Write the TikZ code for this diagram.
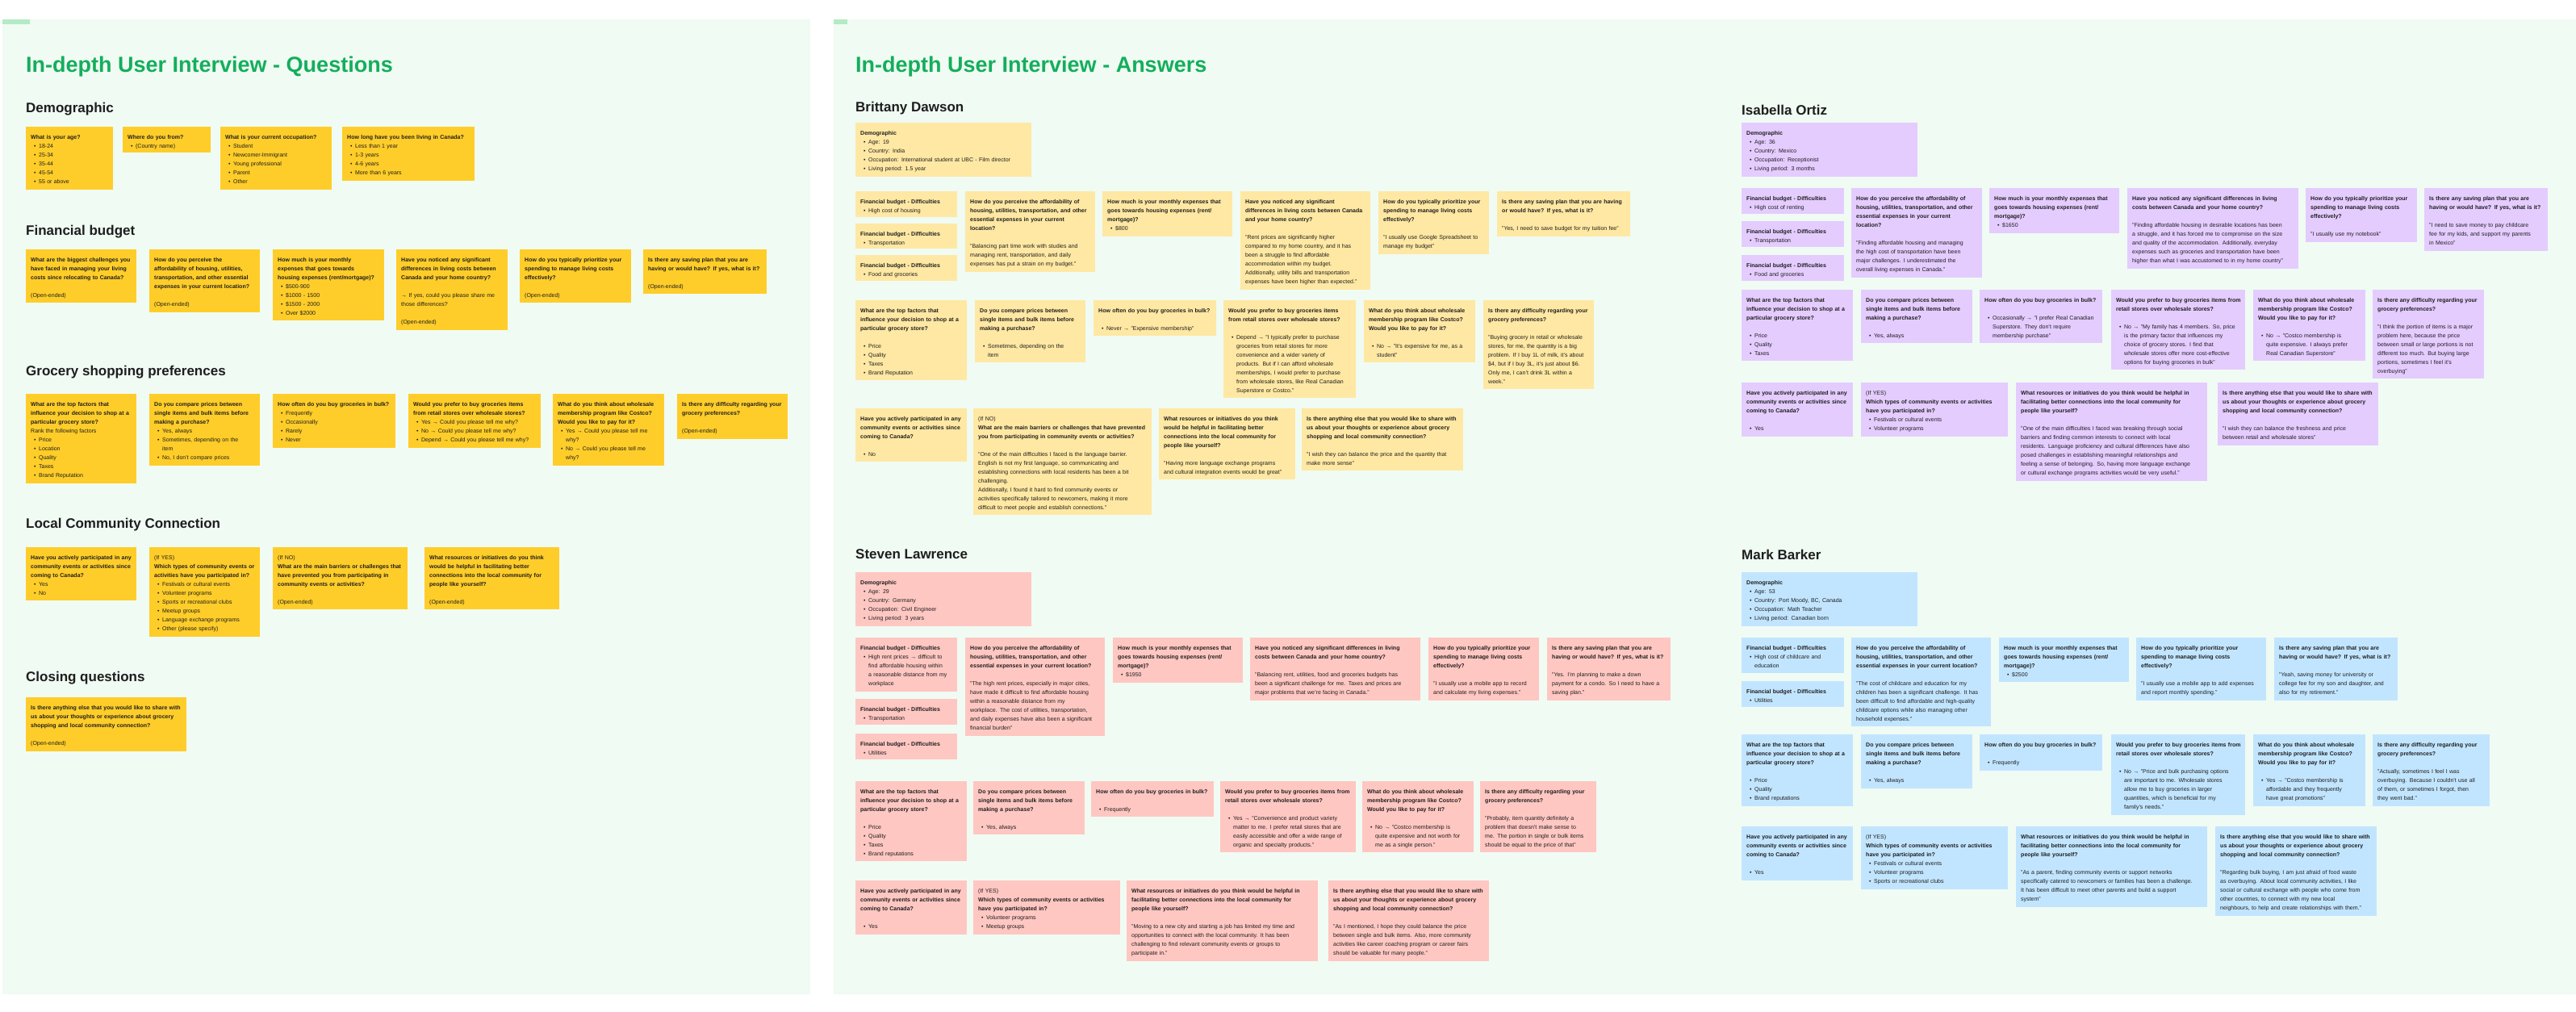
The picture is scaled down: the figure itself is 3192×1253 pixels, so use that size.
\documentclass[tikz,border=0pt]{standalone}
\usepackage{fontspec}
\setmainfont{Liberation Sans}

\definecolor{titlegreen}{HTML}{14AE5C}
\definecolor{panelbg}{HTML}{F0FBF3}
\definecolor{tagbg}{HTML}{B3EBC4}
\definecolor{qyellow}{HTML}{FFCD29}
\definecolor{byellow}{HTML}{FFE8A3}
\definecolor{ipurple}{HTML}{E4CCFF}
\definecolor{sred}{HTML}{FFC7C2}
\definecolor{mblue}{HTML}{C2E5FF}
\definecolor{ink}{HTML}{1E1E1E}

\tikzset{
  qnote/.style={fill=qyellow},
  bnote/.style={fill=byellow},
  inote/.style={fill=ipurple},
  snote/.style={fill=sred},
  mnote/.style={fill=mblue},
  notetext/.style={anchor=north west, inner sep=0pt, align=left, text=ink,
    font=\fontsize{7}{11}\selectfont},
  heading/.style={anchor=west, inner sep=0pt, text=ink,
    font=\fontsize{17}{20}\selectfont\bfseries},
  bigtitle/.style={anchor=west, inner sep=0pt, text=titlegreen,
    font=\fontsize{27}{32}\selectfont\bfseries},
}

% sticky note: name, style, x1, y1, x2, y2, text
\newdimen\notew
\newcommand{\sticky}[7]{%
  \fill[#2] (#3,#4) rectangle (#5,#6);
  \pgfmathsetlength{\notew}{#5-#3-4}%
  \node[notetext, text width=\notew] (#1) at (#3+6,#4+10) {#7};
}
\newcommand{\bul}{\hspace*{4pt}\textbullet\hspace{3.5pt}}
\newcommand{\indt}{\hspace*{10pt}}

% questions that repeat
\newcommand{\fdtitle}{\textbf{Financial budget - Difficulties}}
\newcommand{\qmonthly}{\textbf{How much is your monthly expenses that\\goes towards housing expenses (rent/\\mortgage)?}}
\newcommand{\qprio}{\textbf{How do you typically prioritize your\\spending to manage living costs\\effectively?}}
\newcommand{\qsave}{\textbf{Is there any saving plan that you are\\having or would have? If yes, what is it?}}
\newcommand{\qafford}{\textbf{How do you perceive the affordability of\\housing, utilities, transportation, and other\\essential expenses in your current location?}}
\newcommand{\qnoticed}{\textbf{Have you noticed any significant differences in living\\costs between Canada and your home country?}}
\newcommand{\qfactors}{\textbf{What are the top factors that\\influence your decision to shop at a\\particular grocery store?}}
\newcommand{\qcompare}{\textbf{Do you compare prices between\\single items and bulk items before\\making a purchase?}}
\newcommand{\qbulk}{\textbf{How often do you buy groceries in bulk?}}
\newcommand{\qretail}{\textbf{Would you prefer to buy groceries items from\\retail stores over wholesale stores?}}
\newcommand{\qcostco}{\textbf{What do you think about wholesale\\membership program like Costco?\\Would you like to pay for it?}}
\newcommand{\qdiffic}{\textbf{Is there any difficulty regarding your\\grocery preferences?}}
\newcommand{\qjoined}{\textbf{Have you actively participated in any\\community events or activities since\\coming to Canada?}}
\newcommand{\qwhich}{\textbf{Which types of community events or activities\\have you participated in?}}
\newcommand{\qresources}{\textbf{What resources or initiatives do you think would be helpful in\\facilitating better connections into the local community for\\people like yourself?}}
\newcommand{\qshare}{\textbf{Is there anything else that you would like to share with\\us about your thoughts or experience about grocery\\shopping and local community connection?}}

\begin{document}
\begin{tikzpicture}[x=1pt, y=-1pt]
\useasboundingbox (0,0) rectangle (3192,1253);
\fill[white] (0,0) rectangle (3192,1253);

% Panels
\fill[panelbg] (3,24) rectangle (1004,1232);
\fill[panelbg] (1033,24) rectangle (3192,1232);
\fill[tagbg] (3,24) rectangle (37,30);
\fill[tagbg] (1033,24) rectangle (1050,30);

% Titles
\node[bigtitle] (qtitle) at (32,83) {In-depth User Interview - Questions};
\node[bigtitle] (atitle) at (1060,83) {In-depth User Interview - Answers};

% Section headings
\foreach \y/\t [count=\i] in {135/Demographic,287/Financial budget,461/Grocery shopping preferences,650/Local Community Connection,840/Closing questions}
  \node[heading] (head\i) at (32,\y) {\t};

% ---------------- Questions ----------------
% Demographic
\sticky{qd1}{qnote}{32}{157}{140}{235}{\textbf{What is your age?}\\\bul 18-24\\\bul 25-34\\\bul 35-44\\\bul 45-54\\\bul 55 or above}
\sticky{qd2}{qnote}{152}{157}{261}{189}{\textbf{Where do you from?}\\\bul (Country name)}
\sticky{qd3}{qnote}{273}{157}{411}{235}{\textbf{What is your current occupation?}\\\bul Student\\\bul Newcomer-Immigrant\\\bul Young professional\\\bul Parent\\\bul Other}
\sticky{qd4}{qnote}{424}{157}{588}{224}{\textbf{How long have you been living in Canada?}\\\bul Less than 1 year\\\bul 1-3 years\\\bul 4-6 years\\\bul More than 6 years}

% Financial budget
\sticky{qf1}{qnote}{32}{309}{169}{375}{\textbf{What are the biggest challenges you\\have faced in managing your living\\costs since relocating to Canada?}\\[11pt](Open-ended)}
\sticky{qf2}{qnote}{185}{309}{322}{387}{\textbf{How do you perceive the\\affordability of housing, utilities,\\transportation, and other essential\\expenses in your current location?}\\[11pt](Open-ended)}
\sticky{qf3}{qnote}{338}{309}{476}{397}{\textbf{How much is your monthly\\expenses that goes towards\\housing expenses (rent/mortgage)?}\\\bul \$500-900\\\bul \$1000 - 1500\\\bul \$1500 - 2000\\\bul Over \$2000}
\sticky{qf4}{qnote}{491}{309}{629}{409}{\textbf{Have you noticed any significant\\differences in living costs between\\Canada and your home country?}\\[11pt]→ If yes, could you please share me\\those differences?\\[11pt](Open-ended)}
\sticky{qf5}{qnote}{644}{309}{782}{375}{\qprio\\[11pt](Open-ended)}
\sticky{qf6}{qnote}{797}{309}{950}{364}{\qsave\\[11pt](Open-ended)}

% Grocery shopping
\sticky{qg1}{qnote}{32}{488}{169}{599}{\qfactors\\Rank the following factors\\\bul Price\\\bul Location\\\bul Quality\\\bul Taxes\\\bul Brand Reputation}
\sticky{qg2}{qnote}{185}{488}{322}{577}{\qcompare\\\bul Yes, always\\\bul Sometimes, depending on the\\\indt item\\\bul No, I don't compare prices}
\sticky{qg3}{qnote}{338}{488}{490}{555}{\qbulk\\\bul Frequently\\\bul Occasionally\\\bul Rarely\\\bul Never}
\sticky{qg4}{qnote}{506}{488}{670}{555}{\textbf{Would you prefer to buy groceries items\\from retail stores over wholesale stores?}\\\bul Yes → Could you please tell me why?\\\bul No → Could you please tell me why?\\\bul Depend → Could you please tell me why?}
\sticky{qg5}{qnote}{685}{488}{823}{577}{\qcostco\\\bul Yes → Could you please tell me\\\indt why?\\\bul No → Could you please tell me\\\indt why?}
\sticky{qg6}{qnote}{839}{488}{976}{544}{\qdiffic\\[11pt](Open-ended)}

% Local community
\sticky{ql1}{qnote}{32}{678}{169}{744}{\qjoined\\\bul Yes\\\bul No}
\sticky{ql2}{qnote}{185}{678}{322}{789}{(If YES)\\\textbf{Which types of community events or\\activities have you participated in?}\\\bul Festivals or cultural events\\\bul Volunteer programs\\\bul Sports or recreational clubs\\\bul Meetup groups\\\bul Language exchange programs\\\bul Other (please specify)}
\sticky{ql3}{qnote}{338}{678}{505}{755}{(If NO)\\\textbf{What are the main barriers or challenges that\\have prevented you from participating in\\community events or activities?}\\[11pt](Open-ended)}
\sticky{ql4}{qnote}{526}{678}{693}{755}{\textbf{What resources or initiatives do you think\\would be helpful in facilitating better\\connections into the local community for\\people like yourself?}\\[11pt](Open-ended)}

% Closing
\sticky{qc1}{qnote}{32}{864}{231}{931}{\qshare\\[11pt](Open-ended)}

% ---------------- Answers ----------------
\node[heading] (brittany) at (1060,134) {Brittany Dawson};
\node[heading] (isabella) at (2158,136) {Isabella Ortiz};
\node[heading] (steven) at (1060,687) {Steven Lawrence};
\node[heading] (mark) at (2158,687) {Mark Barker};

% Brittany
\sticky{bdemo}{bnote}{1060}{152}{1278}{219}{\textbf{Demographic}\\\bul Age: 19\\\bul Country: India\\\bul Occupation: International student at UBC - Film director\\\bul Living period: 1.5 year}
\sticky{bfd1}{bnote}{1060}{237}{1186}{269}{\fdtitle\\\bul High cost of housing}
\sticky{bfd2}{bnote}{1060}{277}{1186}{308}{\fdtitle\\\bul Transportation}
\sticky{bfd3}{bnote}{1060}{316}{1186}{348}{\fdtitle\\\bul Food and groceries}
\sticky{baff}{bnote}{1196}{237}{1357}{337}{\textbf{How do you perceive the affordability of\\housing, utilities, transportation, and other\\essential expenses in your current\\location?}\\[11pt]"Balancing part time work with studies and\\managing rent, transportation, and daily\\expenses has put a strain on my budget."}
\sticky{bmon}{bnote}{1366}{237}{1527}{293}{\qmonthly\\\bul \$800}
\sticky{bdiff}{bnote}{1537}{237}{1698}{359}{\textbf{Have you noticed any significant\\differences in living costs between Canada\\and your home country?}\\[11pt]"Rent prices are significantly higher\\compared to my home country, and it has\\been a struggle to find affordable\\accommodation within my budget.\\Additionally, utility bills and transportation\\expenses have been higher than expected."}
\sticky{bprio}{bnote}{1708}{237}{1845}{315}{\qprio\\[11pt]"I usually use Google Spreadsheet to\\manage my budget"}
\sticky{bsave}{bnote}{1855}{237}{2020}{293}{\textbf{Is there any saving plan that you are having\\or would have? If yes, what is it?}\\[11pt]"Yes, I need to save budget for my tuition fee"}

\sticky{bg1}{bnote}{1060}{372}{1198}{471}{\qfactors\\[11pt]\bul Price\\\bul Quality\\\bul Taxes\\\bul Brand Reputation}
\sticky{bg2}{bnote}{1208}{372}{1345}{449}{\qcompare\\[11pt]\bul Sometimes, depending on the\\\indt item}
\sticky{bg3}{bnote}{1355}{372}{1507}{416}{\qbulk\\[11pt]\bul Never → "Expensive membership"}
\sticky{bg4}{bnote}{1516}{372}{1680}{493}{\textbf{Would you prefer to buy groceries items\\from retail stores over wholesale stores?}\\[11pt]\bul Depend → "I typically prefer to purchase\\\indt groceries from retail stores for more\\\indt convenience and a wider variety of\\\indt products. But if I can afford wholesale\\\indt memberships, I would prefer to purchase\\\indt from wholesale stores, like Real Canadian\\\indt Superstore or Costco."}
\sticky{bg5}{bnote}{1690}{372}{1828}{449}{\qcostco\\[11pt]\bul No → "It's expensive for me, as a\\\indt student"}
\sticky{bg6}{bnote}{1838}{372}{1975}{482}{\qdiffic\\[11pt]"Buying grocery in retail or wholesale\\stores, for me, the quantity is a big\\problem. If I buy 1L of milk, it's about\\\$4, but if I buy 3L, it's just about \$6.\\Only me, I can't drink 3L within a\\week."}

\sticky{bl1}{bnote}{1060}{506}{1198}{572}{\qjoined\\[11pt]\bul No}
\sticky{bl2}{bnote}{1206}{506}{1427}{638}{(If NO)\\\textbf{What are the main barriers or challenges that have prevented\\you from participating in community events or activities?}\\[11pt]"One of the main difficulties I faced is the language barrier.\\English is not my first language, so communicating and\\establishing connections with local residents has been a bit\\challenging.\\Additionally, I found it hard to find community events or\\activities specifically tailored to newcomers, making it more\\difficult to meet people and establish connections."}
\sticky{bl3}{bnote}{1436}{506}{1605}{594}{\textbf{What resources or initiatives do you think\\would be helpful in facilitating better\\connections into the local community for\\people like yourself?}\\[11pt]"Having more language exchange programs\\and cultural integration events would be great"}
\sticky{bl4}{bnote}{1613}{506}{1813}{583}{\qshare\\[11pt]"I wish they can balance the price and the quantity that\\make more sense"}

% Isabella
\sticky{idemo}{inote}{2158}{152}{2376}{219}{\textbf{Demographic}\\\bul Age: 36\\\bul Country: Mexico\\\bul Occupation: Receptionist\\\bul Living period: 3 months}
\sticky{ifd1}{inote}{2158}{233}{2285}{265}{\fdtitle\\\bul High cost of renting}
\sticky{ifd2}{inote}{2158}{274}{2285}{306}{\fdtitle\\\bul Transportation}
\sticky{ifd3}{inote}{2158}{316}{2285}{348}{\fdtitle\\\bul Food and groceries}
\sticky{iaff}{inote}{2294}{233}{2456}{344}{\textbf{How do you perceive the affordability of\\housing, utilities, transportation, and other\\essential expenses in your current\\location?}\\[11pt]"Finding affordable housing and managing\\the high cost of transportation have been\\major challenges. I underestimated the\\overall living expenses in Canada."}
\sticky{imon}{inote}{2465}{233}{2626}{289}{\qmonthly\\\bul \$1650}
\sticky{idiff}{inote}{2636}{233}{2848}{333}{\qnoticed\\[11pt]"Finding affordable housing in desirable locations has been\\a struggle, and it has forced me to compromise on the size\\and quality of the accommodation. Additionally, everyday\\expenses such as groceries and transportation have been\\higher than what I was accustomed to in my home country"}
\sticky{iprio}{inote}{2857}{233}{2995}{300}{\qprio\\[11pt]"I usually use my notebook"}
\sticky{isave}{inote}{3004}{233}{3157}{311}{\qsave\\[11pt]"I need to save money to pay childcare\\fee for my kids, and support my parents\\in Mexico"}

\sticky{ig1}{inote}{2158}{359}{2296}{447}{\qfactors\\[11pt]\bul Price\\\bul Quality\\\bul Taxes}
\sticky{ig2}{inote}{2306}{359}{2444}{425}{\qcompare\\[11pt]\bul Yes, always}
\sticky{ig3}{inote}{2453}{359}{2605}{425}{\qbulk\\[11pt]\bul Occasionally → "I prefer Real Canadian\\\indt Superstore. They don't require\\\indt membership purchase"}
\sticky{ig4}{inote}{2616}{359}{2782}{458}{\qretail\\[11pt]\bul No → "My family has 4 members. So, price\\\indt is the primary factor that influences my\\\indt choice of grocery stores. I find that\\\indt wholesale stores offer more cost-effective\\\indt options for buying groceries in bulk"}
\sticky{ig5}{inote}{2792}{359}{2931}{447}{\qcostco\\[11pt]\bul No → "Costco membership is\\\indt quite expensive. I always prefer\\\indt Real Canadian Superstore"}
\sticky{ig6}{inote}{2940}{359}{3078}{469}{\qdiffic\\[11pt]"I think the portion of items is a major\\problem here, because the price\\between small or large portions is not\\different too much. But buying large\\portions, sometimes I feel it's\\overbuying"}

\sticky{il1}{inote}{2158}{474}{2296}{541}{\qjoined\\[11pt]\bul Yes}
\sticky{il2}{inote}{2306}{474}{2488}{541}{(If YES)\\\qwhich\\\bul Festivals or cultural events\\\bul Volunteer programs}
\sticky{il3}{inote}{2498}{474}{2735}{596}{\qresources\\[11pt]"One of the main difficulties I faced was breaking through social\\barriers and finding common interests to connect with local\\residents. Language proficiency and cultural differences have also\\posed challenges in establishing meaningful relationships and\\feeling a sense of belonging. So, having more language exchange\\or cultural exchange programs activities would be very useful."}
\sticky{il4}{inote}{2748}{474}{2947}{552}{\qshare\\[11pt]"I wish they can balance the freshness and price\\between retail and wholesale stores"}

% Steven
\sticky{sdemo}{snote}{1060}{709}{1278}{776}{\textbf{Demographic}\\\bul Age: 29\\\bul Country: Germany\\\bul Occupation: Civil Engineer\\\bul Living period: 3 years}
\sticky{sfd1}{snote}{1060}{790}{1186}{857}{\fdtitle\\\bul High rent prices → difficult to\\\indt find affordable housing within\\\indt a reasonable distance from my\\\indt workplace}
\sticky{sfd2}{snote}{1060}{866}{1186}{898}{\fdtitle\\\bul Transportation}
\sticky{sfd3}{snote}{1060}{909}{1186}{941}{\fdtitle\\\bul Utilities}
\sticky{saff}{snote}{1196}{790}{1369}{912}{\qafford\\[11pt]"The high rent prices, especially in major cities,\\have made it difficult to find affordable housing\\within a reasonable distance from my\\workplace. The cost of utilities, transportation,\\and daily expenses have also been a significant\\financial burden"}
\sticky{smon}{snote}{1379}{790}{1540}{846}{\qmonthly\\\bul \$1950}
\sticky{sdiff}{snote}{1549}{790}{1760}{868}{\qnoticed\\[11pt]"Balancing rent, utilities, food and groceries budgets has\\been a significant challenge for me. Taxes and prices are\\major problems that we're facing in Canada."}
\sticky{sprio}{snote}{1770}{790}{1907}{868}{\qprio\\[11pt]"I usually use a mobile app to record\\and calculate my living expenses."}
\sticky{ssave}{snote}{1917}{790}{2070}{868}{\qsave\\[11pt]"Yes. I'm planning to make a down\\payment for a condo. So I need to have a\\saving plan."}

\sticky{sg1}{snote}{1060}{968}{1198}{1067}{\qfactors\\[11pt]\bul Price\\\bul Quality\\\bul Taxes\\\bul Brand reputations}
\sticky{sg2}{snote}{1206}{968}{1344}{1034}{\qcompare\\[11pt]\bul Yes, always}
\sticky{sg3}{snote}{1352}{968}{1504}{1012}{\qbulk\\[11pt]\bul Frequently}
\sticky{sg4}{snote}{1512}{968}{1680}{1056}{\qretail\\[11pt]\bul Yes → "Convenience and product variety\\\indt matter to me. I prefer retail stores that are\\\indt easily accessible and offer a wide range of\\\indt organic and specialty products."}
\sticky{sg5}{snote}{1688}{968}{1826}{1056}{\qcostco\\[11pt]\bul No → "Costco membership is\\\indt quite expensive and not worth for\\\indt me as a single person."}
\sticky{sg6}{snote}{1834}{968}{1978}{1056}{\qdiffic\\[11pt]"Probably, item quantity definitely a\\problem that doesn't make sense to\\me. The portion in single or bulk items\\should be equal to the price of that"}

\sticky{sl1}{snote}{1060}{1091}{1198}{1158}{\qjoined\\[11pt]\bul Yes}
\sticky{sl2}{snote}{1206}{1091}{1388}{1158}{(If YES)\\\qwhich\\\bul Volunteer programs\\\bul Meetup groups}
\sticky{sl3}{snote}{1396}{1091}{1633}{1191}{\qresources\\[11pt]"Moving to a new city and starting a job has limited my time and\\opportunities to connect with the local community. It has been\\challenging to find relevant community events or groups to\\participate in."}
\sticky{sl4}{snote}{1646}{1091}{1845}{1191}{\qshare\\[11pt]"As I mentioned, I hope they could balance the price\\between single and bulk items. Also, more community\\activities like career coaching program or career fairs\\should be valuable for many people."}

% Mark
\sticky{mdemo}{mnote}{2158}{709}{2376}{776}{\textbf{Demographic}\\\bul Age: 53\\\bul Country: Port Moody, BC, Canada\\\bul Occupation: Math Teacher\\\bul Living period: Canadian born}
\sticky{mfd1}{mnote}{2158}{790}{2285}{834}{\fdtitle\\\bul High cost of childcare and\\\indt education}
\sticky{mfd2}{mnote}{2158}{844}{2285}{876}{\fdtitle\\\bul Utilities}
\sticky{maff}{mnote}{2294}{790}{2467}{900}{\qafford\\[11pt]"The cost of childcare and education for my\\children has been a significant challenge. It has\\been difficult to find affordable and high-quality\\childcare options while also managing other\\household expenses."}
\sticky{mmon}{mnote}{2477}{790}{2638}{845}{\qmonthly\\\bul \$2500}
\sticky{mprio}{mnote}{2647}{790}{2808}{868}{\qprio\\[11pt]"I usually use a mobile app to add expenses\\and report monthly spending."}
\sticky{msave}{mnote}{2818}{790}{2971}{868}{\qsave\\[11pt]"Yeah, saving money for university or\\college fee for my son and daughter, and\\also for my retirement."}

\sticky{mg1}{mnote}{2158}{910}{2296}{999}{\qfactors\\[11pt]\bul Price\\\bul Quality\\\bul Brand reputations}
\sticky{mg2}{mnote}{2306}{910}{2444}{977}{\qcompare\\[11pt]\bul Yes, always}
\sticky{mg3}{mnote}{2453}{910}{2605}{955}{\qbulk\\[11pt]\bul Frequently}
\sticky{mg4}{mnote}{2616}{910}{2782}{1010}{\qretail\\[11pt]\bul No → "Price and bulk purchasing options\\\indt are important to me. Wholesale stores\\\indt allow me to buy groceries in larger\\\indt quantities, which is beneficial for my\\\indt family's needs."}
\sticky{mg5}{mnote}{2792}{910}{2931}{999}{\qcostco\\[11pt]\bul Yes → "Costco membership is\\\indt affordable and they frequently\\\indt have great promotions"}
\sticky{mg6}{mnote}{2940}{910}{3085}{999}{\qdiffic\\[11pt]"Actually, sometimes I feel I was\\overbuying. Because I couldn't use all\\of them, or sometimes I forgot, then\\they went bad."}

\sticky{ml1}{mnote}{2158}{1024}{2296}{1091}{\qjoined\\[11pt]\bul Yes}
\sticky{ml2}{mnote}{2306}{1024}{2488}{1102}{(If YES)\\\qwhich\\\bul Festivals or cultural events\\\bul Volunteer programs\\\bul Sports or recreational clubs}
\sticky{ml3}{mnote}{2498}{1024}{2735}{1124}{\qresources\\[11pt]"As a parent, finding community events or support networks\\specifically catered to newcomers or families has been a challenge.\\It has been difficult to meet other parents and build a support\\system"}
\sticky{ml4}{mnote}{2745}{1024}{2945}{1135}{\qshare\\[11pt]"Regarding bulk buying, I am just afraid of food waste\\as overbuying. About local community activities, I like\\social or cultural exchange with people who come from\\other countries, to connect with my new local\\neighbours, to help and create relationships with them."}

\end{tikzpicture}
\end{document}
